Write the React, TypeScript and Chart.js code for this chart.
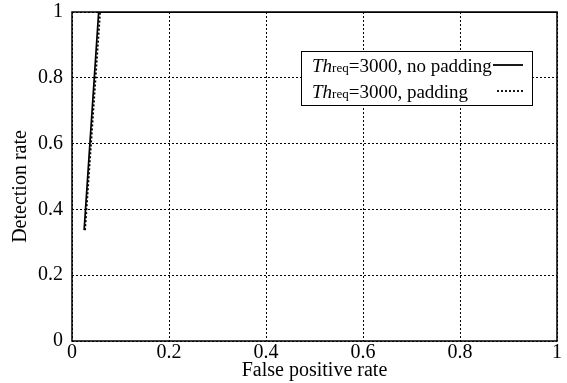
import React, { useEffect, useRef } from "react";
import { Chart, registerables } from "chart.js";

Chart.register(...registerables);

// Data
const fprNoPadding = [0.025, 0.055, 1.0];
const detNoPadding = [0.337, 1.0, 1.0];
const fprPadding = [0.027, 0.058, 1.0];
const detPadding = [0.337, 1.0, 1.0];

const xTickLabels = ["0", "0.2", "0.4", "0.6", "0.8", "1"];
const yTickLabels = ["0", "0.2", "0.4", "0.6", "0.8", "1"];

const thresholdReq = 3000;
const seriesNames = ["no padding", "padding"];

const FONT = "'Liberation Serif', 'Times New Roman', serif";

const framePlugin = {
  id: "frame",
  afterDraw(chart: any) {
    const { ctx, chartArea } = chart;
    const { left, top, right, bottom } = chartArea;
    ctx.save();
    ctx.strokeStyle = "#000";
    ctx.lineWidth = 1.5;
    ctx.setLineDash([]);
    ctx.strokeRect(left, top, right - left, bottom - top);

    // legend box
    const bw = 231;
    const bh = 54;
    const bx = right - 25 - bw;
    const by = top + 39;
    ctx.fillStyle = "#fff";
    ctx.fillRect(bx, by, bw, bh);
    ctx.lineWidth = 1;
    ctx.strokeRect(bx + 0.5, by + 0.5, bw, bh);

    const rows = [by + 21, by + 47];
    const styles = [[], [2, 2]];
    const lineStarts = [bx + 192, bx + 196];
    seriesNames.forEach((name, i) => {
      let x = bx + 11;
      const y = rows[i];
      ctx.fillStyle = "#000";
      ctx.textBaseline = "alphabetic";
      ctx.textAlign = "left";
      ctx.font = `italic 19px ${FONT}`;
      ctx.fillText("Th", x, y);
      x += ctx.measureText("Th").width;
      ctx.font = `13px ${FONT}`;
      ctx.fillText("req", x, y);
      x += ctx.measureText("req").width;
      ctx.font = `19px ${FONT}`;
      ctx.fillText(`=${thresholdReq}, ${name}`, x, y);
      ctx.beginPath();
      ctx.setLineDash(styles[i]);
      ctx.lineWidth = 1.8;
      ctx.moveTo(lineStarts[i], y - 7);
      ctx.lineTo(bx + 222, y - 7);
      ctx.stroke();
    });
    ctx.restore();
  },
};

export default function App() {
  const ref = useRef<HTMLCanvasElement | null>(null);

  useEffect(() => {
    if (!ref.current) return;
    Chart.defaults.font.family = FONT;
    Chart.defaults.font.size = 20;
    Chart.defaults.color = "#000";

    const chart = new Chart(ref.current, {
      type: "line",
      data: {
        datasets: [
          {
            label: seriesNames[0],
            data: fprNoPadding.map((x, i) => ({ x, y: detNoPadding[i] })),
            borderColor: "#000",
            borderWidth: 1.7,
            pointRadius: 0,
            fill: false,
            tension: 0,
          },
          {
            label: seriesNames[1],
            data: fprPadding.map((x, i) => ({ x, y: detPadding[i] })),
            borderColor: "#000",
            borderWidth: 1.8,
            borderDash: [2, 2],
            pointRadius: 0,
            fill: false,
            tension: 0,
          },
        ],
      },
      options: {
        responsive: false,
        animation: false,
        devicePixelRatio: 1,
        layout: { padding: { left: 0, top: 12, right: 10, bottom: 0 } },
        plugins: {
          legend: { display: false },
          tooltip: { enabled: false },
        },
        scales: {
          x: {
            type: "linear",
            min: 0,
            max: 1,
            ticks: {
              stepSize: 0.2,
              padding: 0,
              maxRotation: 0,
              font: { size: 20 },
              callback: (_v: any, i: number) => xTickLabels[i],
            },
            grid: {
              color: "#000",
              lineWidth: 1,
              drawTicks: false,
            },
            border: { display: false, dash: [2, 2] },
            title: {
              display: true,
              text: "False positive rate",
              font: { size: 20 },
              padding: { top: 0, bottom: 0 },
            },
            afterFit: (scale: any) => {
              scale.height = 42;
            },
          },
          y: {
            type: "linear",
            min: 0,
            max: 1,
            ticks: {
              stepSize: 0.2,
              padding: 0,
              font: { size: 20 },
              callback: (_v: any, i: number) => yTickLabels[i],
            },
            grid: {
              color: "#000",
              lineWidth: 1,
              drawTicks: true,
              tickLength: 9,
              tickColor: "rgba(0,0,0,0)",
            },
            border: { display: false, dash: [2, 2] },
            title: {
              display: true,
              text: "Detection rate    ",
              font: { size: 20 },
              padding: { top: 9, bottom: 0 },
            },
            afterFit: (scale: any) => {
              scale.width = 72;
            },
          },
        },
      },
      plugins: [framePlugin],
    });
    return () => chart.destroy();
  }, []);

  return (
    <div style={{ position: "absolute", left: 0, top: 0, width: 567, height: 383, background: "#fff" }}>
      <canvas ref={ref} width={567} height={383} style={{ display: "block" }} />
    </div>
  );
}
